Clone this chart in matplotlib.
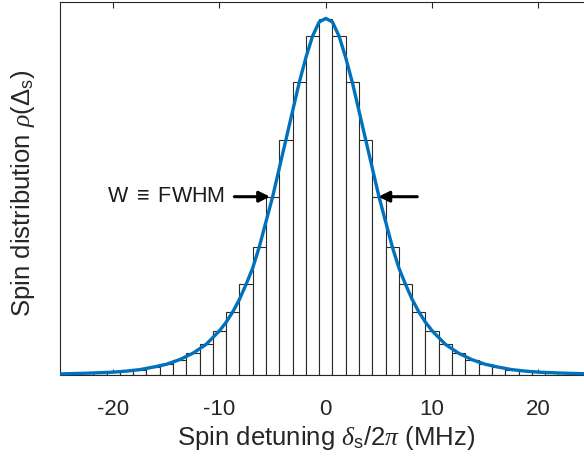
import matplotlib
matplotlib.use("Agg")
import matplotlib.pyplot as plt

# ---- data ----
bar_centers = [-21.25, -20.0, -18.75, -17.5, -16.25, -15.0, -13.75, -12.5, -11.25, -10.0,
               -8.75, -7.5, -6.25, -5.0, -3.75, -2.5, -1.25, 0.0,
               1.25, 2.5, 3.75, 5.0, 6.25, 7.5, 8.75, 10.0, 11.25, 12.5, 13.75,
               15.0, 16.25, 17.5, 18.75, 20.0, 21.25]
bar_heights = [0.006, 0.008, 0.011, 0.014, 0.022, 0.030, 0.043, 0.061, 0.086, 0.124,
               0.177, 0.254, 0.360, 0.498, 0.659, 0.822, 0.950, 0.997,
               0.950, 0.822, 0.659, 0.498, 0.360, 0.254, 0.177, 0.124, 0.086, 0.061, 0.043,
               0.030, 0.022, 0.014, 0.011, 0.008, 0.006]

curve_x = [-25.0, -22.5, -20.0, -18.75, -17.5, -16.25, -15.0, -13.75, -12.5, -11.25,
           -10.0, -9.375, -8.75, -8.125, -7.5, -6.875, -6.25, -5.625, -5.0, -4.375,
           -3.75, -3.125, -2.5, -1.875, -1.25, -0.625, 0.0,
           0.625, 1.25, 1.875, 2.5, 3.125, 3.75, 4.375, 5.0, 5.625, 6.25, 6.875,
           7.5, 8.125, 8.75, 9.375, 10.0, 11.25, 12.5, 13.75, 15.0, 16.25, 17.5,
           18.75, 20.0, 22.5, 25.0]
curve_y = [0.003, 0.005, 0.008, 0.011, 0.015, 0.022, 0.030, 0.043, 0.061, 0.086,
           0.124, 0.148, 0.177, 0.212, 0.254, 0.300, 0.360, 0.430, 0.500, 0.580,
           0.660, 0.740, 0.820, 0.890, 0.950, 0.990, 1.000,
           0.990, 0.950, 0.890, 0.820, 0.740, 0.660, 0.580, 0.500, 0.430, 0.360, 0.300,
           0.254, 0.212, 0.177, 0.148, 0.124, 0.086, 0.061, 0.043, 0.030, 0.022, 0.015,
           0.011, 0.008, 0.005, 0.003]

xticks = [-20, -10, 0, 10, 20]
xlabel = r'Spin detuning $\delta$$_{\rm s}$/2$\pi$ (MHz)'
ylabel = r'Spin distribution $\rho$($\Delta$$_{\rm s}$)'
annot = r'W $\equiv$ FWHM'
half_y = 0.5
left_tip, right_tip = -5.25, 4.95

# ---- styling ----
plt.rcParams['font.family'] = ['Liberation Sans', 'DejaVu Sans']
plt.rcParams['mathtext.fontset'] = 'custom'
plt.rcParams['mathtext.rm'] = 'Liberation Sans'
plt.rcParams['mathtext.it'] = 'Liberation Serif:italic'
plt.rcParams['mathtext.sf'] = 'Liberation Sans'

fig = plt.figure(figsize=(5.84, 4.61), dpi=100)
ax = fig.add_axes([60 / 584, 1 - 375 / 461, 531.6 / 584, 373 / 461])

ax.bar(bar_centers, bar_heights, width=1.25, facecolor='white',
       edgecolor='#2a2a2a', linewidth=0.8, zorder=2)
ax.plot(curve_x, curve_y, color='#0072BD', linewidth=2.4, zorder=3,
        solid_capstyle='butt', clip_on=False)

ax.set_xlim(-25, 25)
ax.set_ylim(0, 1.046)
ax.set_xticks(xticks)
ax.set_xticklabels([str(t) for t in xticks])
ax.set_yticks([])
ax.tick_params(axis='x', direction='in', top=True, length=4, width=0.8,
               colors='#262626', labelsize=16, pad=17)
for s in ax.spines.values():
    s.set_color('#262626')
    s.set_linewidth(0.8)

ax.set_xlabel(xlabel, fontsize=18.5, color='#262626', labelpad=3)
ax.set_ylabel(ylabel, fontsize=18.5, color='#262626')
ax.yaxis.set_label_coords(-0.044, 0.488)

ax.annotate('', xy=(left_tip, half_y), xytext=(-8.6, half_y),
            arrowprops=dict(arrowstyle='-|>', color='black', lw=2.2,
                            mutation_scale=16, shrinkA=0, shrinkB=0), zorder=4)
ax.annotate('', xy=(right_tip, half_y), xytext=(8.6, half_y),
            arrowprops=dict(arrowstyle='-|>', color='black', lw=2.2,
                            mutation_scale=16, shrinkA=0, shrinkB=0), zorder=4)
ax.text(-9.5, half_y, annot, fontsize=15.5, color='#1a1a1a',
        ha='right', va='center', zorder=4)

fig.savefig('out.png', dpi=100)
